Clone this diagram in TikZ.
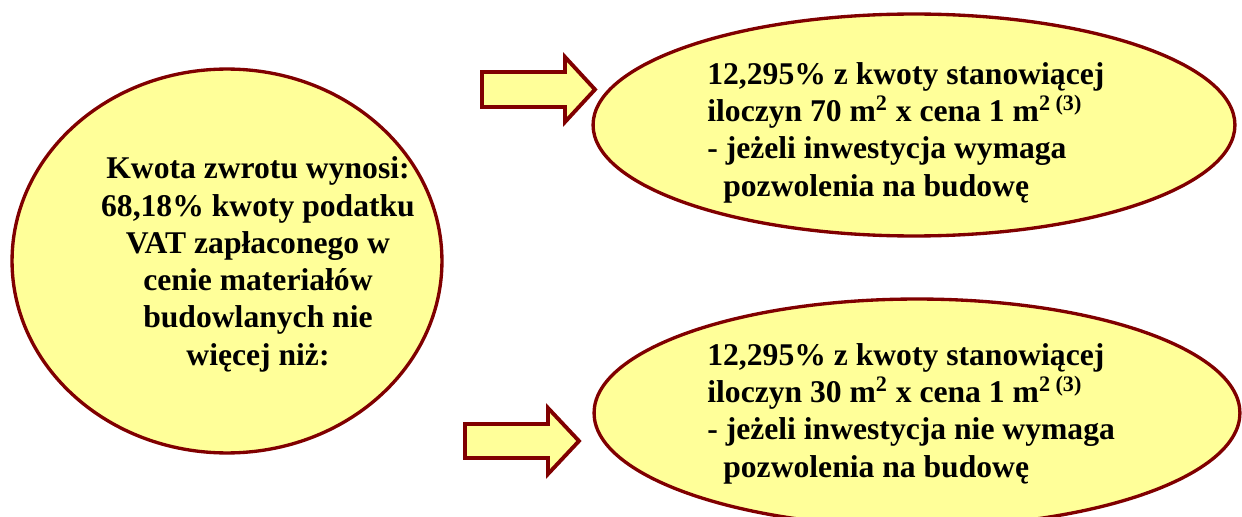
\documentclass[tikz,border=0pt]{standalone}
\usepackage{fontspec}
\setmainfont{Liberation Serif}
\usetikzlibrary{shapes.geometric}
\definecolor{paleyellow}{RGB}{255,255,153}
\definecolor{darkmaroon}{RGB}{128,0,0}

\begin{document}
\begin{tikzpicture}[x=0.02cm, y=-0.02cm,
    oval/.style={ellipse, draw=darkmaroon, fill=paleyellow, line width=1.9pt, inner sep=0pt},
    blockarrow/.style={draw=darkmaroon, fill=paleyellow, line width=2.2pt, line join=miter},
    txt/.style={inner sep=0pt, font=\bfseries\fontsize{18}{21.2}\selectfont}]
    \useasboundingbox (0,0) rectangle (1242,517);

    \node[oval, minimum width=8.6cm, minimum height=7.68cm] (kwota) at (227,261) {};
    \node[oval, minimum width=12.84cm, minimum height=4.44cm] (wymaga) at (914,125) {};
    \node[oval, minimum width=12.92cm, minimum height=4.56cm] (niewymaga) at (917,413) {};

    \draw[blockarrow] (482,72)--(565,72)--(565,57)--(595,89.5)--(565,122)--(565,107)--(482,107)--cycle;
    \draw[blockarrow] (465,424)--(548,424)--(548,408)--(579,441)--(548,474)--(548,458)--(465,458)--cycle;

    \node[txt, align=center, anchor=base] (kwotatxt) at (258,365)
    {Kwota zwrotu wynosi:\\68,18\% kwoty podatku\\VAT zapłaconego w\\cenie materiałów\\budowlanych nie\\więcej niż:};
    \node[txt, align=left, anchor=base west] (wymagatxt) at (707,196)
    {12,295\% z kwoty stanowiącej\\iloczyn 70 m\textsuperscript{2} x cena 1 m\textsuperscript{2 (3)}\\- jeżeli inwestycja wymaga\\\hspace*{0.32cm}pozwolenia na budowę};
    \node[txt, align=left, anchor=base west] (niewymagatxt) at (707,477)
    {12,295\% z kwoty stanowiącej\\iloczyn 30 m\textsuperscript{2} x cena 1 m\textsuperscript{2 (3)}\\- jeżeli inwestycja nie wymaga\\\hspace*{0.32cm}pozwolenia na budowę};
\end{tikzpicture}
\end{document}
